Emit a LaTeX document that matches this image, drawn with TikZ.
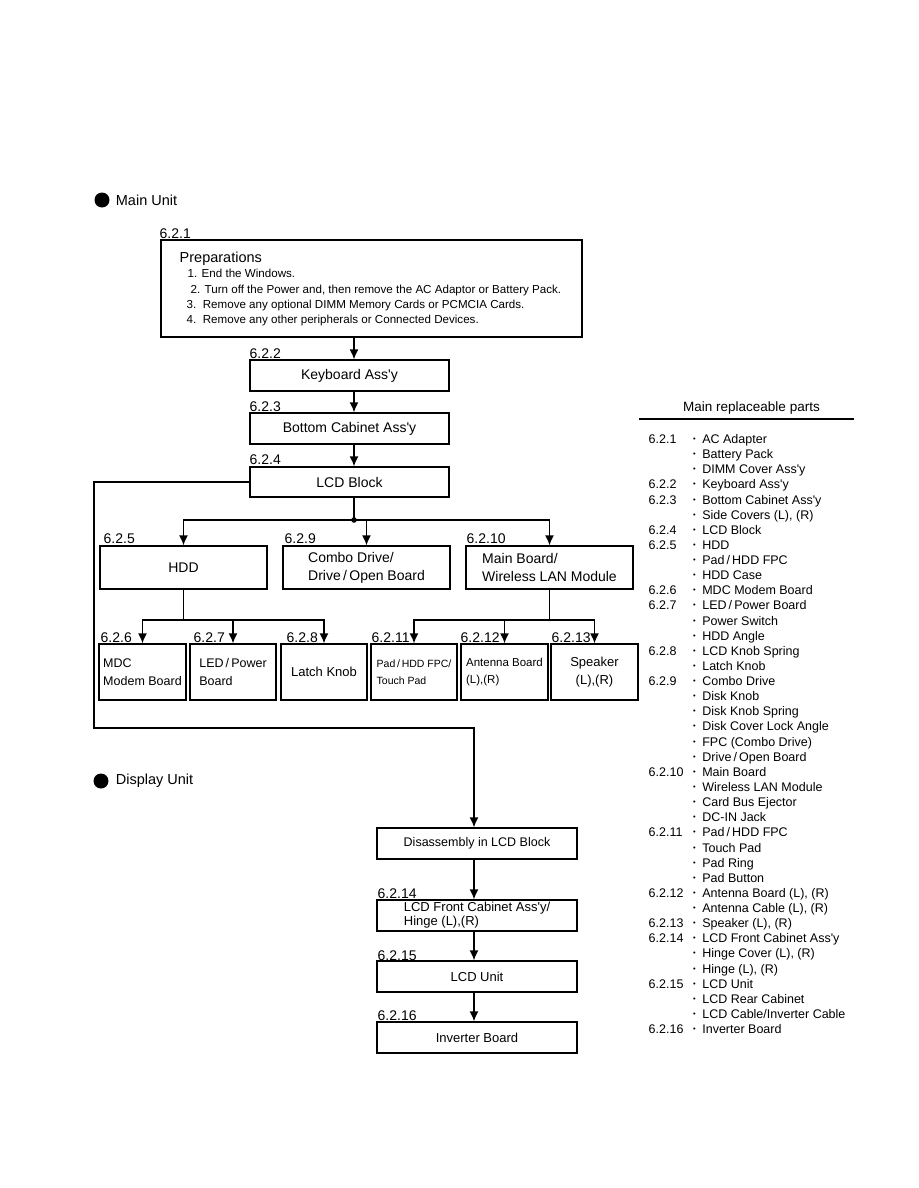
\documentclass[tikz,border=0pt]{standalone}
\usepackage{fontspec}
\setmainfont{Liberation Sans}
\usetikzlibrary{positioning, arrows.meta, calc}
\newcommand{\apo}{\textquotesingle}
\newcommand{\partdot}{\raisebox{0.3ex}{\fontsize{7.5}{8}\selectfont\textbullet}}

\begin{document}
\begin{tikzpicture}[x=1pt, y=-1pt, >={Latex[length=10pt,width=9pt]}, line width=1.4pt,
		box/.style={draw, rectangle, inner sep=0pt, align=center, font=\fontsize{14}{18}\selectfont},
		lbox/.style={box, align=left},
		small/.style={box, align=left, minimum width=86pt, minimum height=56pt, font=\fontsize{12.5}{18}\selectfont},
		num/.style={anchor=base west, inner sep=0pt, font=\fontsize{14}{16}\selectfont},
		prepline/.style={anchor=base west, inner sep=0pt, font=\fontsize{11.6}{14}\selectfont},
		part/.style={anchor=base west, inner sep=0pt, font=\fontsize{12.5}{15}\selectfont},
		head/.style={inner sep=0pt, font=\fontsize{14.5}{17}\selectfont},
		bullet/.style={circle, fill, inner sep=0pt, minimum size=15pt}]
	\useasboundingbox (0,0) rectangle (918,1188);

	% Main Unit
	\node [bullet] (dotmain) at (102,200) {};
	\node [head, right=5pt of dotmain] (mainunit) {Main Unit};

	\node [box, minimum width=421pt, minimum height=97pt] (prep) at (371.5,288.5) {};
	\node [head, anchor=base west] (preptitle) at (179,262) {Preparations};
	\node [prepline] (prep1) at (187,277) {1. End the Windows.};
	\node [prepline] (prep2) at (190,293) {2. Turn off the Power and, then remove the AC Adaptor or Battery Pack.};
	\node [prepline] (prep3) at (186,308) {3.\ \ Remove any optional DIMM Memory Cards or PCMCIA Cards.};
	\node [prepline] (prep4) at (186,323) {4.\ \ Remove any other peripherals or Connected Devices.};

	\node [box, minimum width=199pt, minimum height=31pt] (kbd) at (349.5,375.5) {Keyboard Ass\apo y};
	\node [box, minimum width=199pt, minimum height=31pt] (bot) at (349.5,428.5) {Bottom Cabinet Ass\apo y};
	\node [box, minimum width=199pt, minimum height=30pt] (lcd) at (349.5,482) {LCD Block};

	\node [box, minimum width=167pt, minimum height=43pt] (hdd) at (183.5,567.5) {HDD};
	\node [lbox, minimum width=167pt, minimum height=43pt] (combo) at (366.5,567.5) {Combo Drive/\\Drive\,/\,Open Board};
	\node [lbox, minimum width=167pt, minimum height=43pt] (mainb) at (549.5,567.5) {Main Board/\\Wireless LAN Module};

	\node [small, minimum width=87pt] (mdc) at (142.5,672) {MDC\\Modem Board};
	\node [small] (led) at (233,672) {LED\,/\,Power\\Board};
	\node [small, align=center, font=\fontsize{13}{18}\selectfont] (latch) at (324,672) {Latch Knob};
	\node [small, font=\fontsize{10.5}{17}\selectfont] (pad) at (414,672) {Pad\,/\,HDD FPC/\\Touch Pad};
	\node [small, minimum width=87pt, font=\fontsize{11.5}{17}\selectfont] (ant) at (504.5,672) {Antenna Board\\(L),(R)};
	\node [small, minimum width=87pt, align=center, font=\fontsize{13}{18}\selectfont] (spk) at (594.5,672) {Speaker\\(L),(R)};

	% section numbers
	\node [num] (n621) at (159,238) {6.2.1};
	\node [num] (n622) at (249,358) {6.2.2};
	\node [num] (n623) at (249,411) {6.2.3};
	\node [num] (n624) at (249,464) {6.2.4};
	\node [num] (n625) at (103,543) {6.2.5};
	\node [num] (n629) at (284,543) {6.2.9};
	\node [num] (n6210) at (466,543) {6.2.10};
	\node [num] (n626) at (100,642) {6.2.6};
	\node [num] (n627) at (193,642) {6.2.7};
	\node [num] (n628) at (286,642) {6.2.8};
	\node [num] (n6211) at (371,642) {6.2.11};
	\node [num] (n6212) at (460,642) {6.2.12};
	\node [num] (n6213) at (551,642) {6.2.13};

	% Display Unit
	\node [bullet] (dotdisp) at (101,781) {};
	\node [head, right=6pt of dotdisp] (dispunit) {Display Unit};

	\node [box, minimum width=200pt, minimum height=31pt, font=\fontsize{12.5}{15}\selectfont] (dis) at (477,843.5) {Disassembly in LCD Block};
	\node [lbox, minimum width=200pt, minimum height=31pt, font=\fontsize{13}{14}\selectfont] (front) at (477,915.5) {LCD Front Cabinet Ass\apo y/\\Hinge (L),(R)};
	\node [box, minimum width=200pt, minimum height=31pt, font=\fontsize{13}{15}\selectfont] (unit) at (477,976.5) {LCD Unit};
	\node [box, minimum width=200pt, minimum height=31pt, font=\fontsize{13}{15}\selectfont] (inv) at (477,1037.5) {Inverter Board};
	\node [num] (n6214) at (377,898) {6.2.14};
	\node [num] (n6215) at (377,960) {6.2.15};
	\node [num] (n6216) at (377,1020) {6.2.16};

	% connectors
	\coordinate (trunk) at (354,0);
	\coordinate (fork) at (354,520);
	\coordinate (lvl3) at (0,620);
	\coordinate (leftrail) at (94,728);
	\coordinate (dtrunk) at (474,0);
	\draw [->] (prep.south -| trunk) -- (kbd.north -| trunk);
	\draw [->] (kbd.south -| trunk) -- (bot.north -| trunk);
	\draw [->] (bot.south -| trunk) -- (lcd.north -| trunk);
	\draw (lcd.south -| trunk) -- (fork);
	\fill (fork) circle (2.8pt);
	\draw [->] (fork) -| (hdd.north);
	\draw [->] (fork) -| (mainb.north);
	\draw [->] (fork -| combo.north) -- (combo.north);

	\draw [->] (hdd.south) -- (hdd.south |- lvl3) -| (mdc.north);
	\draw [->] (hdd.south |- lvl3) -| (latch.north);
	\draw [->] (led.north |- lvl3) -- (led.north);
	\draw [->] (mainb.south) -- (mainb.south |- lvl3) -| (spk.north);
	\draw [->] (mainb.south |- lvl3) -| (pad.north);
	\draw [->] (ant.north |- lvl3) -- (ant.north);

	\draw [->] (lcd.west) -| (leftrail) -| (dis.north -| dtrunk);
	\draw [->] (dis.south -| dtrunk) -- (front.north -| dtrunk);
	\draw [->] (front.south -| dtrunk) -- (unit.north -| dtrunk);
	\draw [->] (unit.south -| dtrunk) -- (inv.north -| dtrunk);

	% parts list
	\node [inner sep=0pt, font=\fontsize{13.5}{16}\selectfont] (listtitle) at (751.5,408) {Main replaceable parts};
	\draw [line width=1.2pt] (639,419) -- (854,419);
	\foreach \k/\pno/\ptxt in {0/6.2.1/AC Adapter, 1//Battery Pack, 2//DIMM Cover Ass\apo y,
			3/6.2.2/Keyboard Ass\apo y, 4/6.2.3/Bottom Cabinet Ass\apo y, 5//{Side Covers (L), (R)},
			6/6.2.4/LCD Block, 7/6.2.5/HDD, 8//{Pad\,/\,HDD FPC}, 9//HDD Case,
			10/6.2.6/MDC Modem Board, 11/6.2.7/{LED\,/\,Power Board}, 12//Power Switch, 13//HDD Angle,
			14/6.2.8/LCD Knob Spring, 15//Latch Knob, 16/6.2.9/Combo Drive, 17//Disk Knob,
			18//Disk Knob Spring, 19//Disk Cover Lock Angle, 20//FPC (Combo Drive), 21//{Drive\,/\,Open Board},
			22/6.2.10/Main Board, 23//Wireless LAN Module, 24//Card Bus Ejector, 25//DC-IN Jack,
			26/6.2.11/{Pad\,/\,HDD FPC}, 27//Touch Pad, 28//Pad Ring, 29//Pad Button,
			30/6.2.12/{Antenna Board (L), (R)}, 31//{Antenna Cable (L), (R)}, 32/6.2.13/{Speaker (L), (R)},
			33/6.2.14/LCD Front Cabinet Ass\apo y, 34//{Hinge Cover (L), (R)}, 35//{Hinge (L), (R)},
			36/6.2.15/LCD Unit, 37//LCD Rear Cabinet, 38//{LCD Cable/Inverter Cable}, 39/6.2.16/Inverter Board}
	{
		\node [part] (no\k) at (648,{443.5+15.13*\k}) {\pno};
		\node [part] (pt\k) at (692.5,{443.5+15.13*\k}) {\partdot\hspace{6.5pt}\ptxt};
	}
\end{tikzpicture}
\end{document}
